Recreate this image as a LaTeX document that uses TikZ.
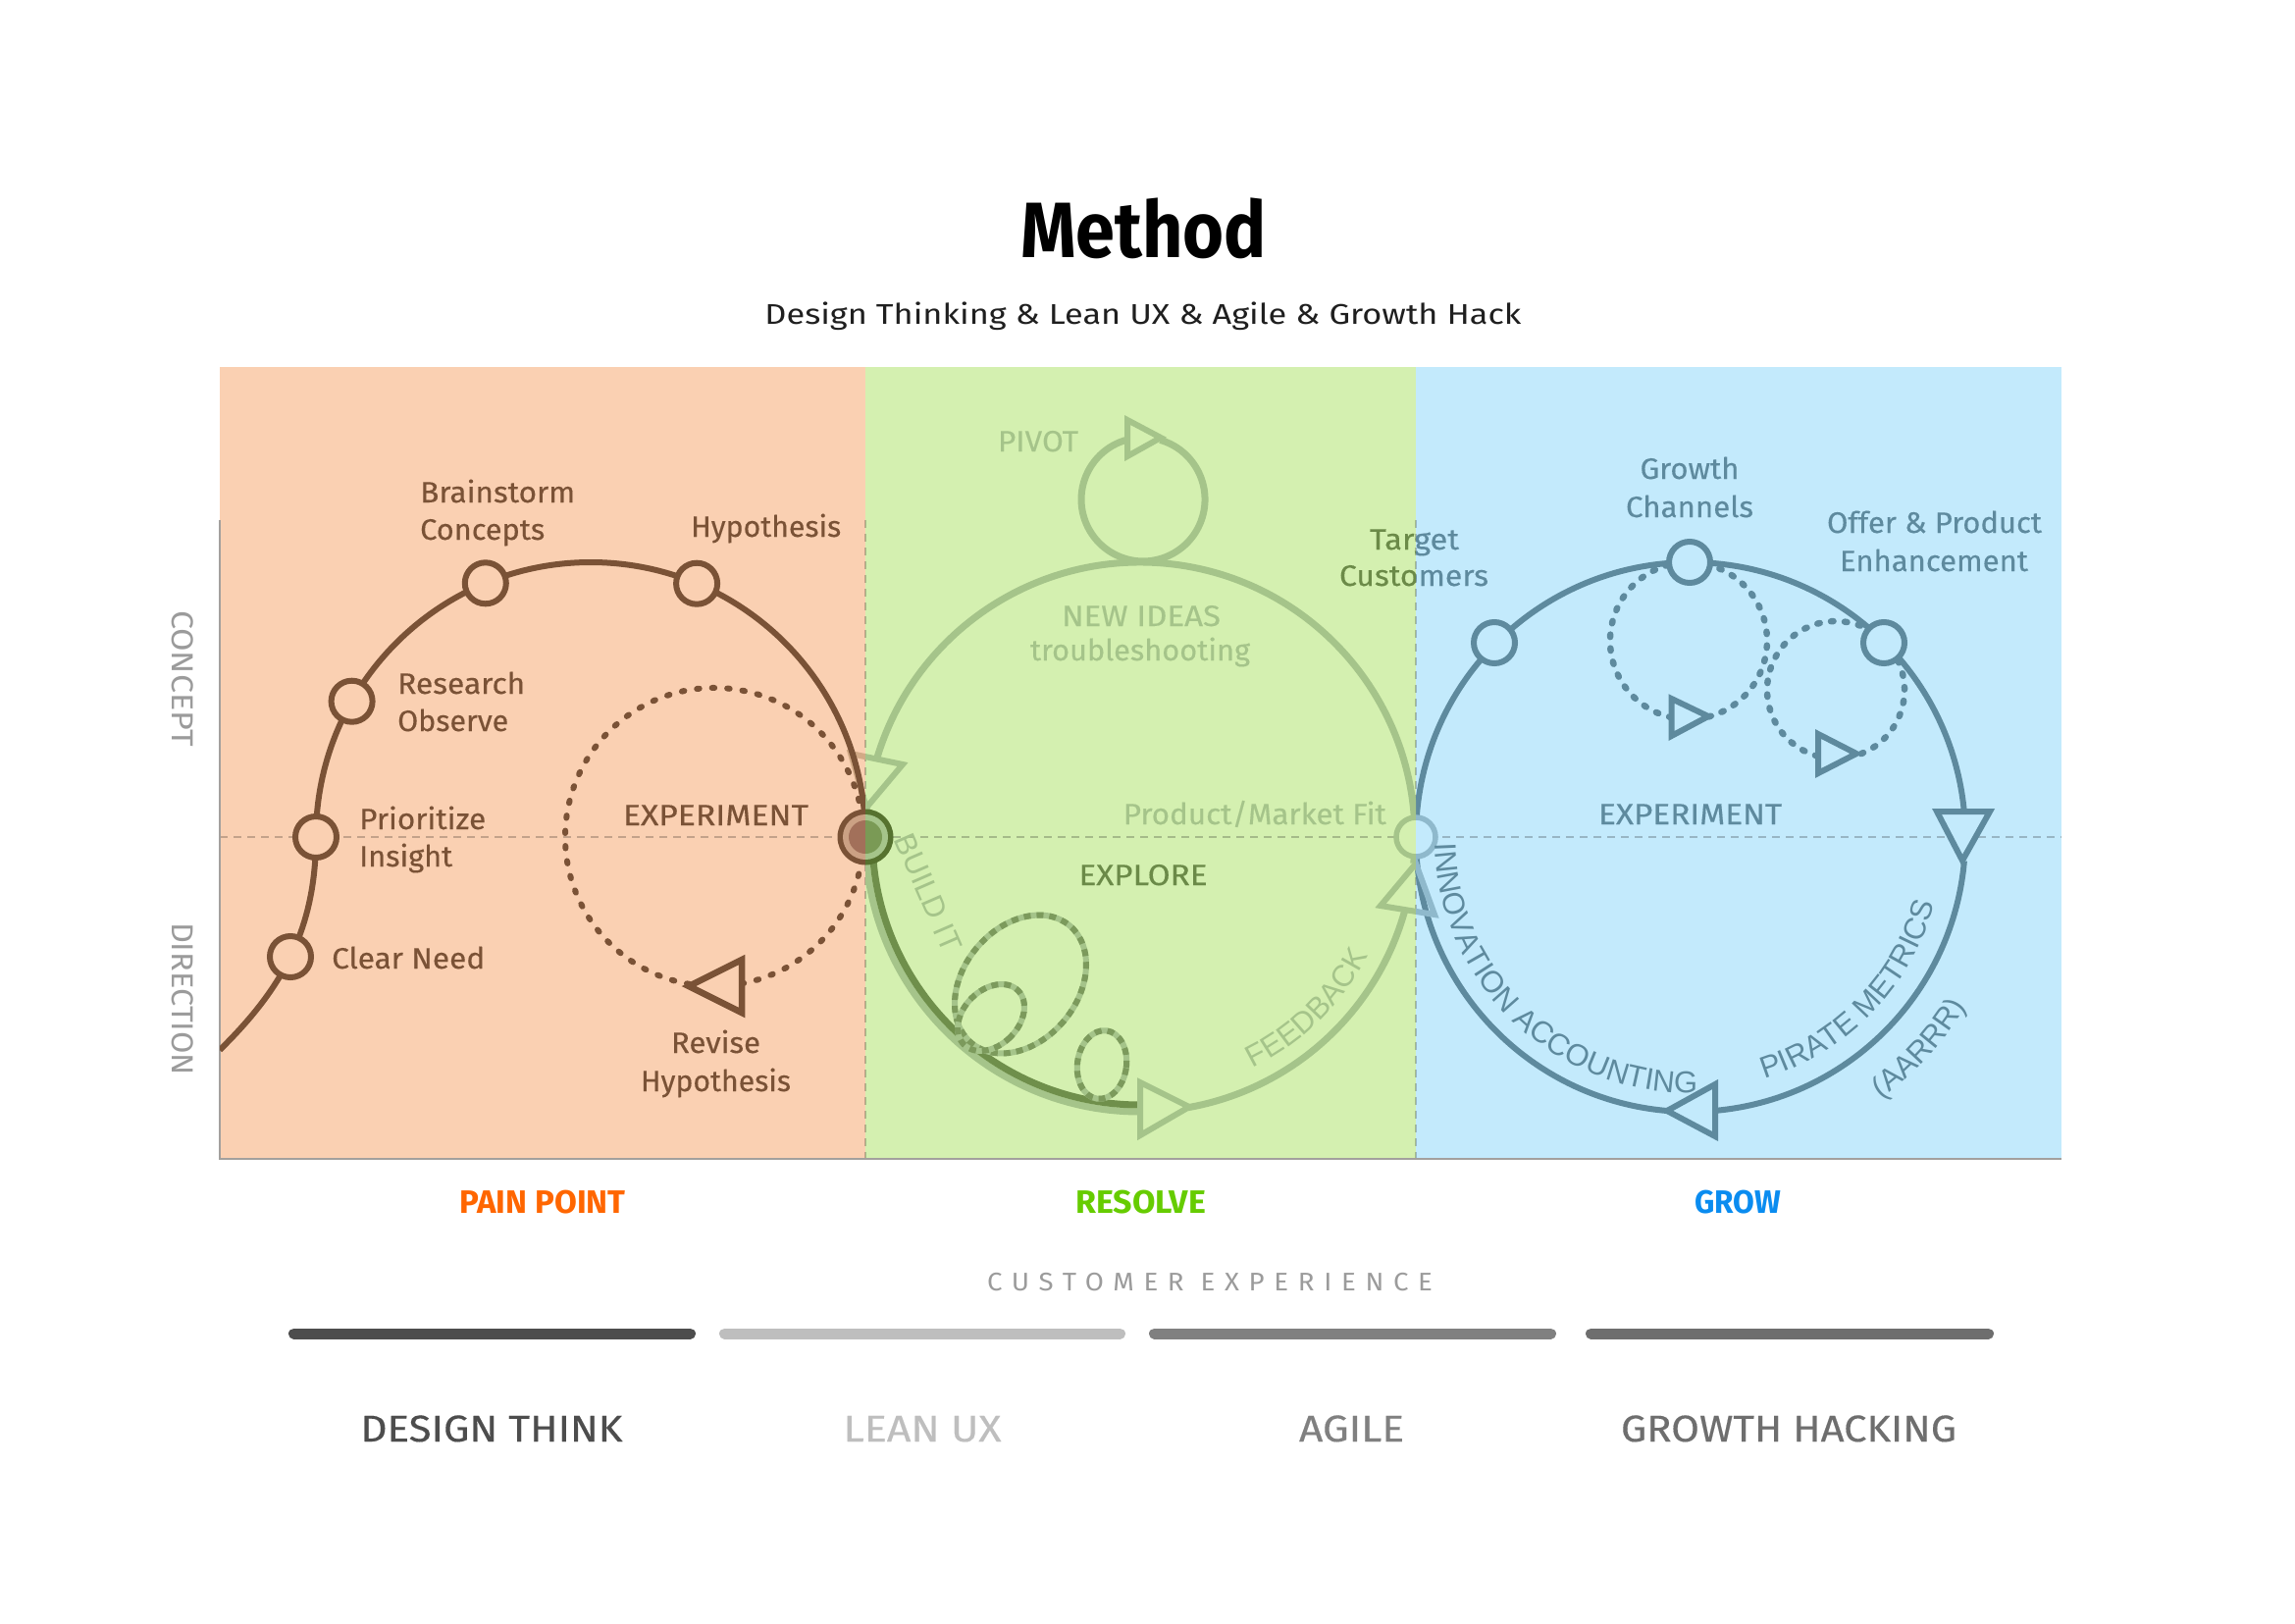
\documentclass[tikz,border=0pt]{standalone}
\usepackage{fontspec}
\setmainfont{Fira Sans}
\newfontfamily\medf{Fira Sans}[FakeBold=0.3]
\newfontfamily\arialf{Liberation Sans}
\usetikzlibrary{decorations.text}

\definecolor{orangebg}{HTML}{FAD0B2}
\definecolor{greenbg}{HTML}{D4F0B0}
\definecolor{bluebg}{HTML}{C3EAFC}
\definecolor{brownc}{HTML}{7A5236}
\definecolor{greenl}{HTML}{A5C48A}
\definecolor{greend}{HTML}{6F8F4B}
\definecolor{greent}{HTML}{6B8A48}
\definecolor{greendash}{HTML}{7C9A5C}
\definecolor{bluec}{HTML}{5E8A9E}
\definecolor{bluel}{HTML}{8FB9CC}
\definecolor{tanc}{HTML}{D2AA86}
\definecolor{painc}{HTML}{FF6600}
\definecolor{resolvec}{HTML}{66CC00}
\definecolor{growc}{HTML}{0A8CF0}
\definecolor{grayax}{HTML}{9B9B9B}
\definecolor{axisgray}{HTML}{A3A09D}
\definecolor{jbrownring}{HTML}{CBA184}
\definecolor{jbrownin}{HTML}{A2705A}
\definecolor{jgreenout}{HTML}{56722F}
\definecolor{jgreenin}{HTML}{7A9A55}
\definecolor{bardark}{HTML}{4D4D4D}
\definecolor{barlight}{HTML}{BEBEBE}
\definecolor{barmid}{HTML}{808080}
\definecolor{barmd}{HTML}{6E6E6E}

\newcommand\fsz[1]{\fontsize{#1}{#1}\selectfont}
\newcommand\fw[2]{\resizebox{#1pt}{\height}{#2}}
\newcommand\curvefont{\arialf\fsz{31}}

\begin{document}
\begin{tikzpicture}[x=1pt,y=-1pt,
  lbl/.style={inner sep=0pt, font=\medf\fsz{30}},
  guide/.style={draw=black, draw opacity=0.22, line width=1.6pt, dash pattern=on 8pt off 6pt},
  axisline/.style={draw=axisgray, line width=2pt},
  brline/.style={draw=brownc, line width=6pt},
  brdots/.style={draw=brownc, line width=6pt, line cap=round, dash pattern=on 2.5pt off 13pt},
  brtri/.style={draw=brownc, line width=6.5pt, fill=orangebg, line join=miter},
  bnode/.style={circle, draw=brownc, line width=6pt, fill=orangebg, minimum size=42pt, inner sep=0pt},
  gline/.style={draw=greenl, line width=7pt},
  gdark/.style={draw=greend, line width=7pt},
  gtri/.style={draw=greenl, line width=6pt, line join=miter},
  gellbase/.style={draw=greenl, line width=6pt},
  gelldash/.style={draw=greendash, line width=6pt, dash pattern=on 7pt off 6pt},
  bline/.style={draw=bluec, line width=6pt},
  bdots/.style={draw=bluec, line width=6.5pt, line cap=round, dash pattern=on 2.5pt off 11.5pt},
  btri/.style={draw=bluec, line width=6pt, fill=bluebg, line join=miter},
  bluenode/.style={circle, draw=bluec, line width=6pt, fill=bluebg, minimum size=42pt, inner sep=0pt},
  barline/.style={line width=11pt, line cap=round},
  medlbl/.style={anchor=base, inner sep=0pt, font=\medf\fsz{38}},
]
% canvas
\fill[white] (0,0) rectangle (2339,1654);
\useasboundingbox (0,0) rectangle (2339,1654);

% three phase panels
\fill[orangebg] (224,374) rectangle (882,1181);
\fill[greenbg] (882,374) rectangle (1443,1181);
\fill[bluebg] (1443,374) rectangle (2101,1181);

% guides and axes
\draw[guide] (224,853) -- (2101,853);
\draw[guide] (882,530) -- (882,1181);
\draw[guide] (1443,530) -- (1443,1181);
\draw[axisline] (224,530) -- (224,1181) -- (2101,1181);

% part of the green arrow lying over the orange panel
\begin{scope}
  \clip (0,0) rectangle (882,1654);
  \draw[gtri, draw=tanc] (867,768) -- (920,779) -- (883,823) -- cycle;
\end{scope}

% ---------- design thinking spiral ----------
\begin{scope}
  \clip (224,374) rectangle (882,1181);
  \draw[brline] (322,853) .. controls (322,950) and (285,1010) .. (224,1070);
\end{scope}
\draw[brline] (322,853) arc[start angle=180, end angle=360, radius=280];
\draw[brdots] (702.4,1002.8) arc[start angle=99.7, end angle=439.6, radius=152];
\draw[brtri] (756,978) -- (756,1032) -- (702,1005) -- cycle;
\node[bnode] (clear) at (296,975) {};
\node[bnode] (prior) at (322,853) {};
\node[bnode] (research) at (358.6,714.7) {};
\node[bnode] (brain) at (494.8,594.3) {};
\node[bnode] (hypo) at (710.1,594.7) {};

% ---------- growth loop ----------
\draw[bline] (2001.9,877.4) arc[start angle=5, end angle=84.9, radius=280];
\draw[bline] (1699.1,1132) arc[start angle=94.9, end angle=354.7, radius=280];
\draw[bdots] (1703.5,731.1) arc[start angle=102.6, end angle=435.4, radius=80];
\draw[bdots] (1852.3,770.5) arc[start angle=105.5, end angle=432, radius=70];
\draw[btri] (1974,827) -- (2028,827) -- (2000,877) -- cycle;
\draw[btri] (1748,1105) -- (1748,1158) -- (1699,1132) -- cycle;
\draw[btri] (1703.5,712) -- (1703.5,750) -- (1741,730) -- cycle;
\draw[btri] (1853,748) -- (1853,788) -- (1892,768) -- cycle;
\node[bluenode] (target) at (1523,655) {};
\node[bluenode] (channels) at (1722,573) {};
\node[bluenode] (offer) at (1920,655) {};

% ---------- lean loop ----------
\begin{scope}
  \clip (882,0) rectangle (1443,1654);
  \draw[gline] (882,853) arc[start angle=180, end angle=90, radius=280];
  \draw[gdark] (889,853) arc[start angle=180, end angle=90, radius=273];
  \draw[gline] (1210.6,1128.7) arc[start angle=80, end angle=15.3, radius=280];
  \draw[gline] (1440.7,879.8) arc[start angle=5.5, end angle=-163.6, radius=280];
  \draw[gline] (883.6,823.2) arc[start angle=-173.9, end angle=-180, radius=280];
  \draw[gline] (1182.4,448.4) arc[start angle=-74, end angle=255.6, radius=63];
  \draw[gtri] (1149,428) -- (1149,465) -- (1183,446) -- cycle;
  \draw[gtri] (1162,1103) -- (1162,1157) -- (1212,1128) -- cycle;
  \draw[gtri] (1407,923) -- (1462,932) -- (1443,880) -- cycle;
  \draw[gtri] (867,768) -- (920,779) -- (883,823) -- cycle;
  % explored ideas
  \draw[gellbase, rotate around={-40:(1040,1003)}] (1040,1003) ellipse [x radius=58, y radius=78];
  \draw[gelldash, rotate around={-40:(1040,1003)}] (1040,1003) ellipse [x radius=58, y radius=78];
  \draw[gellbase, rotate around={-45:(1010,1037)}] (1010,1037) ellipse [x radius=28, y radius=39];
  \draw[gelldash, rotate around={-45:(1010,1037)}] (1010,1037) ellipse [x radius=28, y radius=39];
  \draw[gellbase, rotate around={-8:(1123,1085)}] (1123,1085) ellipse [x radius=25, y radius=35];
  \draw[gelldash, rotate around={-8:(1123,1085)}] (1123,1085) ellipse [x radius=25, y radius=35];
\end{scope}
\begin{scope}
  \clip (1443,0) rectangle (2339,1654);
  \draw[gtri, draw=bluel] (1407,923) -- (1462,932) -- (1443,880) -- cycle;
\end{scope}

% ---------- hand-over points ----------
\node[circle, minimum size=57pt, inner sep=0pt] (fit1) at (882,853) {};
\begin{scope}
  \clip (0,0) rectangle (882,1654);
  \fill[brownc] (fit1.center) circle[radius=28.5];
  \fill[jbrownring] (fit1.center) circle[radius=23];
  \fill[jbrownin] (fit1.center) circle[radius=17];
\end{scope}
\begin{scope}
  \clip (882,0) rectangle (2339,1654);
  \fill[jgreenout] (fit1.center) circle[radius=28.5];
  \fill[greenl] (fit1.center) circle[radius=23];
  \fill[jgreenin] (fit1.center) circle[radius=17];
\end{scope}
\node[circle, minimum size=40pt, inner sep=0pt] (fit2) at (1443,853) {};
\begin{scope}
  \clip (0,0) rectangle (1443,1654);
  \draw[draw=greenl, fill=greenbg, line width=5.5pt] (fit2.center) circle[radius=20];
\end{scope}
\begin{scope}
  \clip (1443,0) rectangle (2339,1654);
  \draw[draw=bluel, fill=bluebg, line width=5.5pt] (fit2.center) circle[radius=20];
\end{scope}

% ---------- titles ----------
\node[anchor=base, inner sep=0pt, font=\fsz{80}\bfseries] (title) at (1165.5,262) {\fw{251}{Method}};
\node[anchor=base, inner sep=0pt, font=\fsz{29}, text=black!88] (subtitle) at (1165,330)
  {\fw{771}{Design Thinking \& Lean UX \& Agile \& Growth Hack}};

% axis words
\node[rotate=-90, inner sep=0pt, font=\fsz{31}, text=grayax] (concept) at (186.5,691.5) {\fw{139}{CONCEPT}};
\node[rotate=-90, inner sep=0pt, font=\fsz{31}, text=grayax] (direction) at (186.5,1018) {\fw{156}{DIRECTION}};

% design thinking labels
\node[lbl, text=brownc, anchor=base west] (lBrain1) at (428,512) {\fw{158}{Brainstorm}};
\node[lbl, text=brownc, anchor=base west] (lBrain2) at (428,550) {\fw{127}{Concepts}};
\node[lbl, text=brownc, anchor=base west] (lHypo) at (704,547) {\fw{153}{Hypothesis}};
\node[lbl, text=brownc, anchor=base west] (lRes1) at (405,707) {\fw{130}{Research}};
\node[lbl, text=brownc, anchor=base west] (lRes2) at (405,745) {\fw{113}{Observe}};
\node[lbl, text=brownc, anchor=base west] (lPri1) at (366,845) {\fw{129}{Prioritize}};
\node[lbl, text=brownc, anchor=base west] (lPri2) at (366,883) {\fw{95}{Insight}};
\node[lbl, text=brownc, anchor=base west] (lClear) at (338,987) {\fw{156}{Clear Need}};
\node[lbl, text=brownc, anchor=base] (lExpL) at (729.5,841) {\fw{189}{EXPERIMENT}};
\node[lbl, text=brownc, anchor=base] (lRev1) at (729.5,1073) {\fw{91}{Revise}};
\node[lbl, text=brownc, anchor=base] (lRev2) at (729.5,1112) {\fw{153}{Hypothesis}};

% lean labels
\node[lbl, text=greenl, anchor=base] (lPivot) at (1058,460) {\fw{82}{PIVOT}};
\node[lbl, text=greenl, anchor=base] (lNew1) at (1163,638) {\fw{162}{NEW IDEAS}};
\node[lbl, text=greenl, anchor=base] (lNew2) at (1162,673) {\fw{224}{troubleshooting}};
\node[lbl, text=greenl, anchor=base east] (lPmf) at (1413,840) {\fw{268}{Product/Market Fit}};
\node[lbl, text=greent, anchor=base] (lExplore) at (1165,902) {\fw{131}{EXPLORE}};
\node[inner sep=0pt, rotate=-66.5, text=greenl, font=\curvefont] (lBuild) at (946,910) {BUILD IT};
\path[decorate, decoration={text along path, text align=left,
    text={|\curvefont\color{greenl}|FEEDBACK}}]
  (1276.9,1088.5) arc[start angle=64, end angle=-30, radius=262];

% customer segment label across the boundary
\begin{scope}
  \clip (0,0) rectangle (1443,1654);
  \node[lbl, text=greent, anchor=base] (lTarget1) at (1441.5,560) {\fw{91}{Target}};
  \node[lbl, text=greent, anchor=base] (lTarget2) at (1441,597) {\fw{152}{Customers}};
\end{scope}
\begin{scope}
  \clip (1443,0) rectangle (2339,1654);
  \node[lbl, text=bluec, anchor=base] (lTarget1b) at (1441.5,560) {\fw{91}{Target}};
  \node[lbl, text=bluec, anchor=base] (lTarget2b) at (1441,597) {\fw{152}{Customers}};
\end{scope}

% growth labels
\node[lbl, text=bluec, anchor=base] (lGrowth1) at (1722,488) {\fw{101}{Growth}};
\node[lbl, text=bluec, anchor=base] (lGrowth2) at (1722,527) {\fw{130}{Channels}};
\node[lbl, text=bluec, anchor=base] (lOffer1) at (1971.5,543) {\fw{219}{Offer \& Product}};
\node[lbl, text=bluec, anchor=base] (lOffer2) at (1971,582) {\fw{192}{Enhancement}};
\node[lbl, text=bluec, anchor=base] (lExpR) at (1722.6,840) {\fw{187}{EXPERIMENT}};
\path[decorate, decoration={text along path, text align=left,
    text={|\curvefont\color{bluec}|INNOVATION ACCOUNTING}}]
  (1462.1,859.8) arc[start angle=178.5, end angle=40, radius=261];
\path[decorate, decoration={text along path, text align=left,
    text={|\curvefont\color{bluec}|PIRATE METRICS}}]
  (1798.4,1099.7) arc[start angle=73, end angle=-40, radius=258];
\path[decorate, decoration={text along path, text align=left,
    text={|\curvefont\color{bluec}|(AARRR)}}]
  (1917.0,1120.0) arc[start angle=54, end angle=-20, radius=330];

% phase names
\node[anchor=base, inner sep=0pt, font=\fsz{33}\bfseries, text=painc] (pPain) at (553,1236) {\fw{169}{PAIN POINT}};
\node[anchor=base, inner sep=0pt, font=\fsz{33}\bfseries, text=resolvec] (pResolve) at (1162.6,1236) {\fw{133}{RESOLVE}};
\node[anchor=base, inner sep=0pt, font=\fsz{33}\bfseries, text=growc] (pGrow) at (1771,1236) {\fw{88}{GROW}};

% customer experience scale
\node[anchor=base, inner sep=0pt, font=\fsz{26}\addfontfeatures{LetterSpace=35}, text=grayax] (cx) at (1233,1315)
  {\fw{454}{CUSTOMER EXPERIENCE}};
\draw[barline, bardark] (299.5,1359) -- (703.5,1359);
\draw[barline, barlight] (738.5,1359) -- (1141.5,1359);
\draw[barline, barmid] (1176.5,1359) -- (1580.5,1359);
\draw[barline, barmd] (1621.5,1359) -- (2026.5,1359);
\node[medlbl, text=bardark] (mDesign) at (501,1469) {\fw{267}{DESIGN THINK}};
\node[medlbl, text=barlight] (mLean) at (940,1469) {\fw{161}{LEAN UX}};
\node[medlbl, text=barmid] (mAgile) at (1377.5,1469) {\fw{107}{AGILE}};
\node[medlbl, text=barmd] (mGrowth) at (1823,1469) {\fw{342}{GROWTH HACKING}};
\end{tikzpicture}
\end{document}
